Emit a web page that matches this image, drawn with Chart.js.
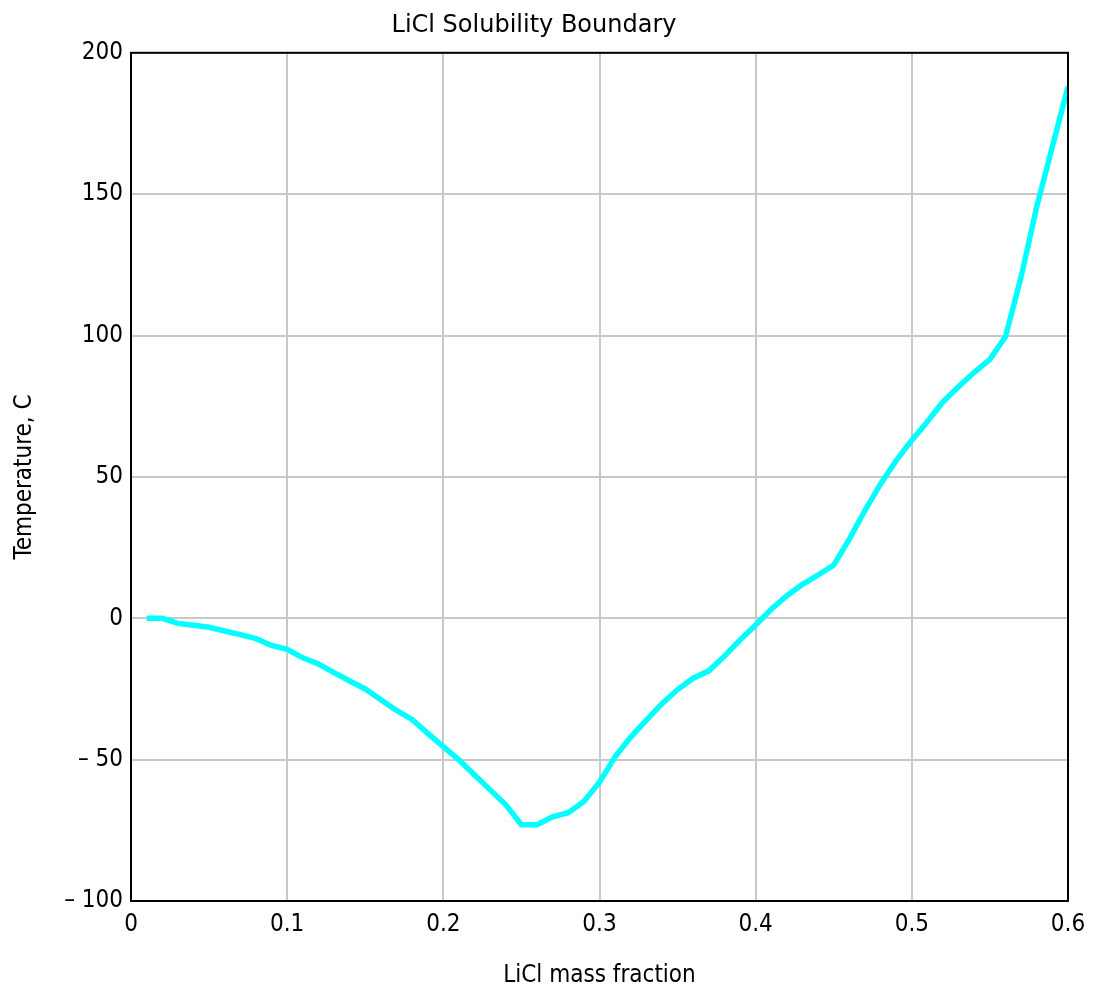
<!DOCTYPE html>
<html>
<head>
<meta charset="utf-8">
<script src="https://cdn.jsdelivr.net/npm/chart.js@4"></script>
<style>
  html, body { margin: 0; padding: 0; background: #ffffff; }
  #wrap { width: 1096px; height: 988px; }
</style>
</head>
<body>
<div id="wrap"><canvas id="c" width="1096" height="988"></canvas></div>
<script>
const chartTitle = "LiCl Solubility Boundary";
const xAxisTitle = "LiCl mass fraction";
const yAxisTitle = "Temperature, C";

const massFraction = [
  0.01, 0.02, 0.03, 0.04, 0.05, 0.06, 0.07, 0.08, 0.09, 0.10,
  0.11, 0.12, 0.13, 0.14, 0.15, 0.16, 0.17, 0.18, 0.19, 0.20,
  0.21, 0.22, 0.23, 0.24, 0.25, 0.26, 0.27, 0.28, 0.29, 0.30,
  0.31, 0.32, 0.33, 0.34, 0.35, 0.36, 0.37, 0.38, 0.39, 0.40,
  0.41, 0.42, 0.43, 0.44, 0.45, 0.46, 0.47, 0.48, 0.49, 0.50,
  0.51, 0.52, 0.53, 0.54, 0.55, 0.56, 0.57, 0.58, 0.59, 0.60
];
const temperature = [
  0, 0, -1.8, -2.5, -3.2, -4.5, -5.8, -7.2, -9.6, -11,
  -14, -16.2, -19.2, -22.2, -25, -28.8, -32.6, -35.8, -40.7, -45.4,
  -50.1, -55.4, -60.7, -66, -73, -73, -70.2, -68.8, -64.8, -58,
  -49, -42, -36, -30.2, -25.2, -21.2, -18.6, -13.4, -7.7, -2.4,
  3.2, 8, 12, 15.3, 18.8, 28, 38.2, 47.5, 55.8, 63,
  69.6, 76.6, 82, 87, 91.6, 99.6, 120.8, 145.6, 166.8, 188
];
const xTicks = [0, 0.1, 0.2, 0.3, 0.4, 0.5, 0.6];
const yTicks = [-100, -50, 0, 50, 100, 150, 200];

const points = massFraction.map((x, i) => ({ x: x, y: temperature[i] }));
const FONT_T = "'DejaVu Sans', Verdana, sans-serif";
const FONT = "'DejaVu Sans Condensed', 'DejaVu Sans', sans-serif";

const frame = {
  id: 'frame',
  afterDraw(chart) {
    const a = chart.chartArea, ctx = chart.ctx;
    ctx.save();
    ctx.strokeStyle = '#000';
    ctx.lineWidth = 2;
    ctx.strokeRect(a.left, a.top, a.right - a.left, a.bottom - a.top);
    ctx.restore();
  }
};

function fmt(v) {
  if (v < 0) return '\u2013 ' + Math.abs(v);
  return String(Math.round(v * 10) / 10);
}

new Chart(document.getElementById('c'), {
  type: 'line',
  data: {
    datasets: [{
      data: points,
      borderColor: '#00ffff',
      borderWidth: 5.5,
      pointRadius: 0,
      tension: 0,
      fill: false
    }]
  },
  options: {
    responsive: false,
    animation: false,
    layout: { padding: { left: 0, right: 28, top: 0, bottom: 0 } },
    plugins: {
      legend: { display: false },
      tooltip: { enabled: false },
      title: {
        display: true,
        text: chartTitle,
        color: '#000',
        font: { family: FONT_T, size: 24, weight: 'normal', lineHeight: 1.2 },
        padding: { top: 11, bottom: 13 }
      }
    },
    scales: {
      x: {
        type: 'linear',
        min: 0, max: 0.6,
        afterBuildTicks(scale) { scale.ticks = xTicks.map(v => ({ value: v })); },
        afterFit(scale) { scale.height = 87; },
        ticks: {
          color: '#000',
          font: { family: FONT, size: 24 },
          padding: 9,
          maxRotation: 0,
          callback: v => fmt(v)
        },
        grid: { color: '#c8c8c8', lineWidth: 2, drawTicks: false },
        border: { display: true, color: '#000', width: 2 },
        title: {
          display: true,
          text: xAxisTitle,
          color: '#000',
          font: { family: FONT, size: 24, lineHeight: 1 },
          padding: { top: 0, bottom: 0 }
        }
      },
      y: {
        type: 'linear',
        min: -100, max: 200,
        afterBuildTicks(scale) { scale.ticks = yTicks.map(v => ({ value: v })); },
        afterFit(scale) { scale.width = 131; },
        ticks: {
          color: '#000',
          font: { family: FONT, size: 24 },
          padding: 8,
          callback: v => fmt(v)
        },
        grid: { color: '#c8c8c8', lineWidth: 2, drawTicks: false },
        border: { display: true, color: '#000', width: 2 },
        title: {
          display: true,
          text: yAxisTitle,
          color: '#000',
          font: { family: FONT, size: 24, lineHeight: 1.2 },
          padding: { top: 10, bottom: 0 }
        }
      }
    }
  },
  plugins: [frame]
});
</script>
</body>
</html>
